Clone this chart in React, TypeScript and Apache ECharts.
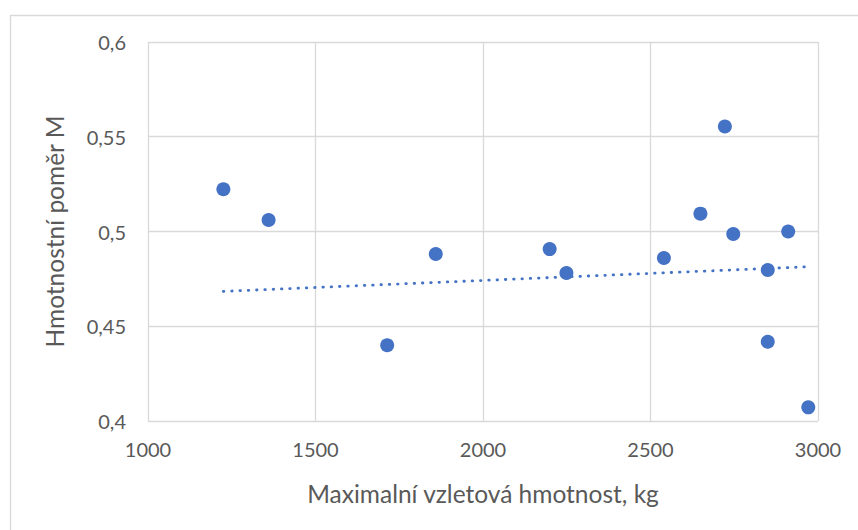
import React, { useEffect, useRef } from "react";
import * as echarts from "echarts";

// Maximální vzletová hmotnost (kg) a hmotnostní poměr M
const takeoffMass = [1225, 1360, 1714, 1859, 2199, 2249, 2540, 2649, 2722, 2747, 2850, 2850, 2911, 2971];
const massRatio = [0.5223, 0.5061, 0.44, 0.4881, 0.4907, 0.4781, 0.486, 0.5094, 0.5554, 0.4987, 0.4797, 0.4418, 0.5, 0.4072];

// Lineární spojnice trendu (počáteční a koncový bod)
const trendMass = [1225, 2971];
const trendRatio = [0.4684, 0.4814];

const xTitle = "Maximalní vzletová hmotnost, kg";
const yTitle = "Hmotnostní poměr M";

const FONT = "Lato, 'Open Sans', sans-serif";
const TEXT = "#595959";
const GRID = "#d9d9d9";
const BLUE = "#4472C4";

export default function App() {
  const ref = useRef<HTMLDivElement>(null);

  useEffect(() => {
    if (!ref.current) return;
    const chart = echarts.init(ref.current, undefined, { renderer: "svg" });
    const points = takeoffMass.map((x, i) => [x, massRatio[i]]);
    const trend = trendMass.map((x, i) => [x, trendRatio[i]]);

    chart.setOption({
      animation: false,
      backgroundColor: "#ffffff",
      textStyle: { fontFamily: FONT },
      grid: { left: 148, right: 40, top: 42, bottom: 109, containLabel: false },
      graphic: [
        {
          type: "rect",
          left: 8,
          top: 13,
          shape: { width: 900, height: 600 },
          style: { fill: "none", stroke: GRID, lineWidth: 1.3 },
          silent: true,
          z: -1,
        },
      ],
      xAxis: {
        type: "value",
        min: 1000,
        max: 3000,
        interval: 500,
        name: xTitle,
        nameLocation: "middle",
        nameGap: 60,
        nameTextStyle: { color: TEXT, fontSize: 24.5, fontFamily: FONT },
        axisLine: { show: false },
        axisTick: { show: false },
        axisLabel: {
          color: TEXT,
          fontSize: 20,
          fontFamily: FONT,
          margin: 18,
          formatter: (v: number) => String(v),
        },
        splitLine: { show: true, lineStyle: { color: GRID, width: 1.3 } },
      },
      yAxis: {
        type: "value",
        min: 0.4,
        max: 0.6,
        interval: 0.05,
        name: yTitle,
        nameLocation: "middle",
        nameGap: 81,
        nameRotate: 90,
        nameTextStyle: { color: TEXT, fontSize: 24.5, fontFamily: FONT },
        axisLine: { show: false },
        axisTick: { show: false },
        axisLabel: {
          color: TEXT,
          fontSize: 20,
          fontFamily: FONT,
          margin: 22,
          formatter: (v: number) => String(Math.round(v * 100) / 100).replace(".", ","),
        },
        splitLine: { show: true, lineStyle: { color: GRID, width: 1.3 } },
      },
      series: [
        {
          type: "line",
          data: trend,
          symbol: "none",
          lineStyle: { color: BLUE, width: 2.8, type: [0.5, 7.8], cap: "round" },
          silent: true,
          z: 2,
        },
        {
          type: "scatter",
          data: points,
          symbol: "circle",
          symbolSize: 14,
          itemStyle: { color: BLUE, opacity: 1 },
          z: 3,
        },
      ],
    });

    return () => chart.dispose();
  }, []);

  return (
    <div
      ref={ref}
      style={{ position: "fixed", left: 0, top: 0, width: 858, height: 530, background: "#fff" }}
    />
  );
}
